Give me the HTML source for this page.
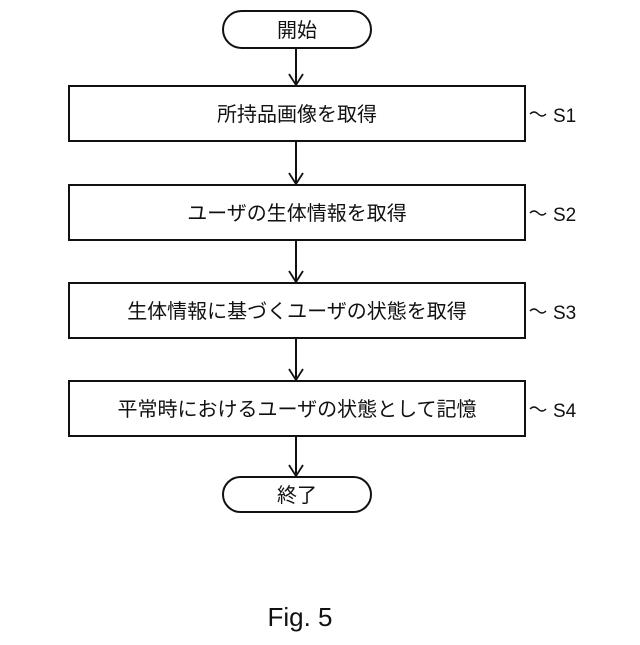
<!DOCTYPE html>
<html><head><meta charset="utf-8"><style>
body{margin:0;background:#fff}
text{font-family:"Liberation Sans","Noto Sans CJK JP",sans-serif;fill:#111}
</style></head><body>
<svg width="640" height="640" viewBox="0 0 640 640" xmlns="http://www.w3.org/2000/svg">
<g fill="none" stroke="#111" stroke-width="2">
<rect x="223" y="11" width="148" height="37" rx="18.5"/>
<rect x="69" y="86" width="456" height="55"/>
<rect x="69" y="185" width="456" height="55"/>
<rect x="69" y="283" width="456" height="55"/>
<rect x="69" y="381" width="456" height="55"/>
<rect x="223" y="477" width="148" height="35" rx="17.5"/>
<path d="M296 48V85M296 141V184M296 240V282M296 338V380M296 436V476"/>
<path d="M289 74L296 85L303 74M289 173L296 184L303 173M289 271L296 282L303 271M289 369L296 380L303 369M289 465L296 476L303 465" stroke-width="1.8"/>
<g stroke-width="1.3">
<path d="M530 114q4-4 8 0t8 0"/>
<path d="M530 213q4-4 8 0t8 0"/>
<path d="M530 311q4-4 8 0t8 0"/>
<path d="M530 409q4-4 8 0t8 0"/>
</g>
</g>
<g font-size="20" text-anchor="middle">
<text x="297" y="37">開始</text>
<text x="297" y="121">所持品画像を取得</text>
<text x="297" y="220">ユーザの生体情報を取得</text>
<text x="297" y="318">生体情報に基づくユーザの状態を取得</text>
<text x="297" y="416">平常時におけるユーザの状態として記憶</text>
<text x="297" y="502">終了</text>
</g>
<g font-size="19">
<text x="553" y="122">S1</text>
<text x="553" y="221">S2</text>
<text x="553" y="319">S3</text>
<text x="553" y="417">S4</text>
</g>
<text x="300" y="626" font-size="26" text-anchor="middle" font-family="Liberation Mono, monospace">Fig. 5</text>
</svg>
</body></html>
